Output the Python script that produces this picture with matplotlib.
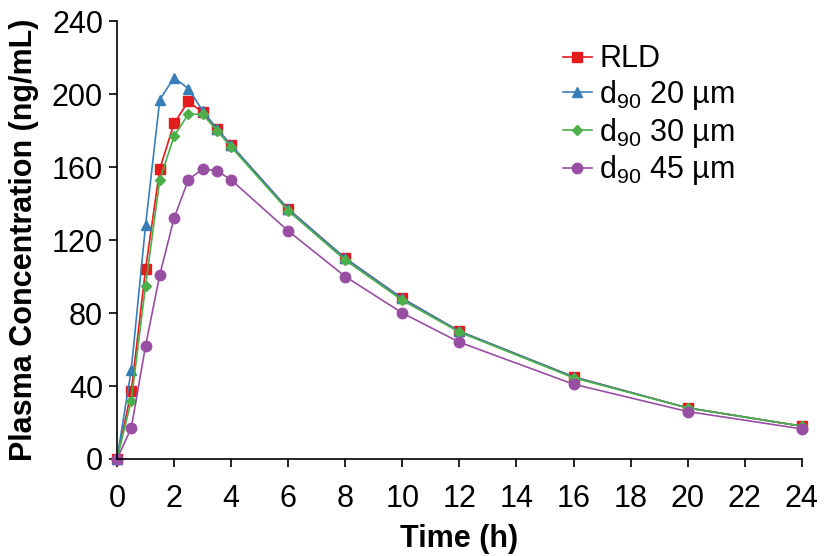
import matplotlib
matplotlib.use("Agg")
import matplotlib.pyplot as plt

plt.rcParams['font.family'] = ['Liberation Sans', 'DejaVu Sans']
plt.rcParams['mathtext.fontset'] = 'custom'
plt.rcParams['mathtext.rm'] = 'Liberation Sans'
plt.rcParams['mathtext.it'] = 'Liberation Sans'

# time points (h)
time = [0, 0.5, 1, 1.5, 2, 2.5, 3, 3.5, 4, 6, 8, 10, 12, 16, 20, 24]

# plasma concentrations (ng/mL)
rld = [0, 37, 104, 159, 184, 196, 190, 181, 172, 137, 110, 88, 70, 45, 28, 18]
d90_20 = [0, 49, 128, 197, 209, 203, 191, 181, 172, 137, 110, 88, 70, 45, 28, 18]
d90_30 = [0, 32, 95, 153, 177, 189, 189, 180, 171, 136, 109, 87, 69.5, 44.5, 28, 18]
d90_45 = [0, 17, 62, 101, 132, 153, 159, 158, 153, 125, 100, 80, 64, 41, 26, 16.5]

series = [
    ("RLD", rld, "#e41a1c", "s", 7),
    ("d$_{90}$ 20 µm", d90_20, "#377eb8", "^", 7),
    ("d$_{90}$ 30 µm", d90_30, "#4daf4a", "D", 5),
    ("d$_{90}$ 45 µm", d90_45, "#984ea3", "o", 7.5),
]

fig = plt.figure(figsize=(8.24, 5.56), dpi=100)
ax = fig.add_axes([0.142, 0.1745, 0.831, 0.7875])

for label, vals, color, marker, ms in series:
    ax.plot(time, vals, color=color, marker=marker, markersize=ms,
            linewidth=1.2, label=label, clip_on=False)

ax.set_xlim(0, 24)
ax.set_ylim(0, 240)
ax.set_xticks(range(0, 25, 2))
ax.set_yticks(range(0, 241, 40))
ax.tick_params(labelsize=22, length=6, width=1.2, direction='out')
ax.tick_params(axis='x', pad=12)
ax.tick_params(axis='y', pad=4)
ax.spines['top'].set_visible(False)
ax.spines['right'].set_visible(False)
ax.spines['left'].set_linewidth(1.2)
ax.spines['bottom'].set_linewidth(1.2)

ax.set_xlabel("Time (h)", fontsize=22, fontweight='bold', labelpad=7)
ax.set_ylabel("Plasma Concentration (ng/mL)", fontsize=22, fontweight='bold', labelpad=9)

ax.legend(loc='upper left', bbox_to_anchor=(0.633, 0.975), frameon=False,
          fontsize=22, handlelength=0.95, handletextpad=0.25, labelspacing=0.12,
          borderaxespad=0)

fig.savefig("out.png", dpi=100)
